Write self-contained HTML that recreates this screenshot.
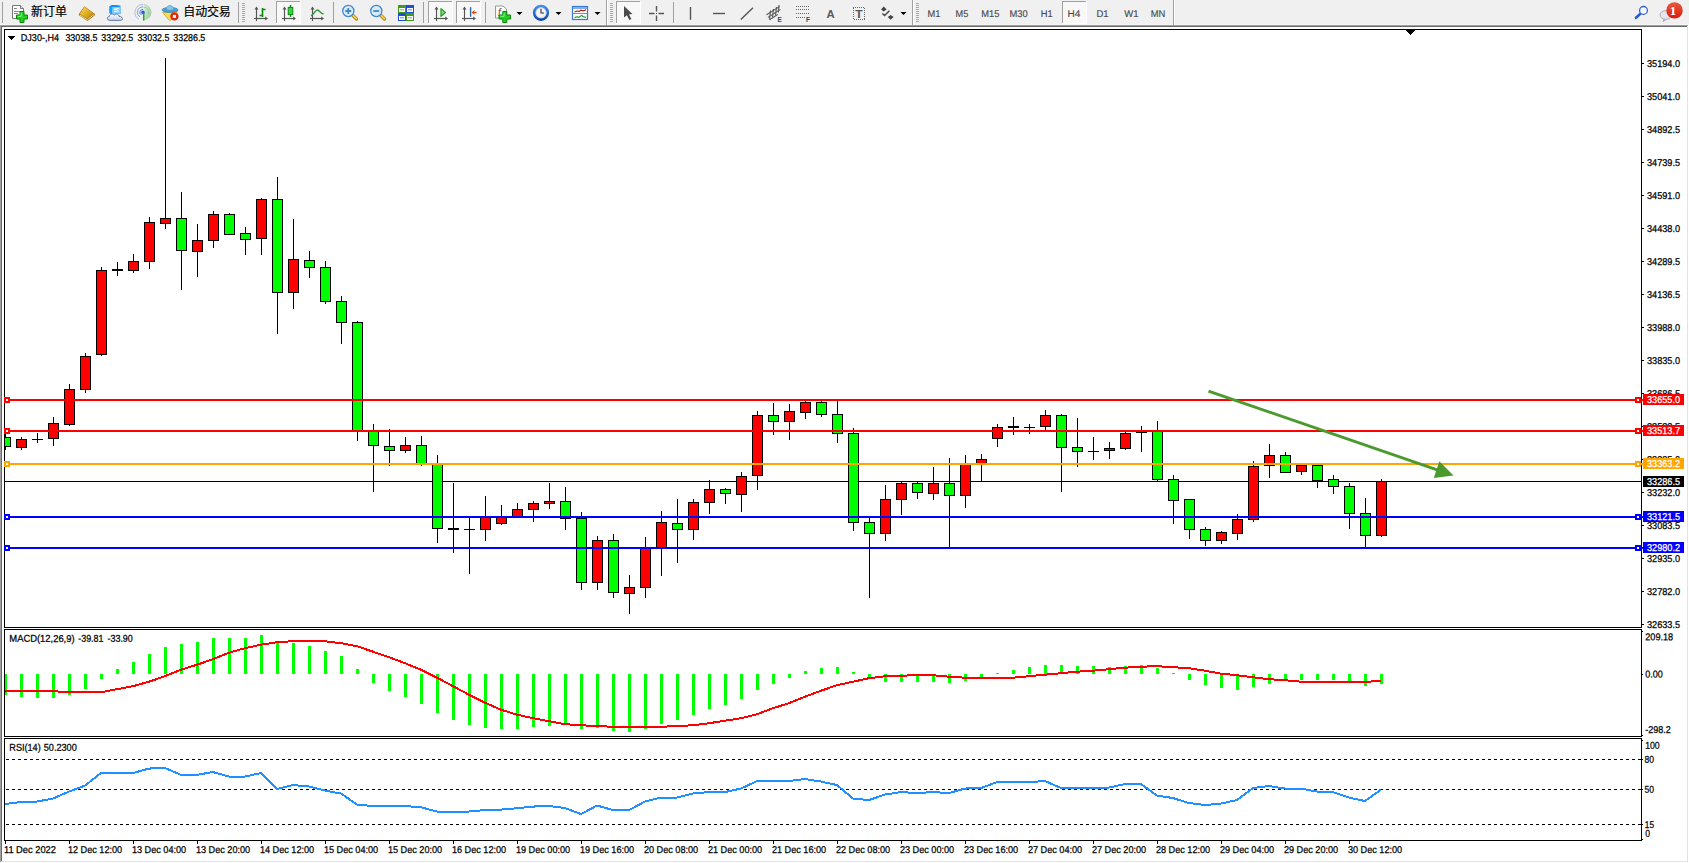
<!DOCTYPE html>
<html lang="zh"><head><meta charset="utf-8"><title>DJ30-,H4</title>
<style>html,body{margin:0;padding:0;background:#fff;overflow:hidden}svg{display:block}text{font-family:"Liberation Sans","Noto Sans CJK SC",sans-serif;font-size:9.9px;fill:#000;stroke:#000;stroke-width:0.25px}.cj{font-size:12px;stroke-width:0.18px}.tf{font-size:9.8px;fill:#4a4a4a;stroke:#4a4a4a;stroke-width:0.15px}.w{fill:#fff;stroke:#fff}</style>
</head><body>
<svg width="1689" height="863" viewBox="0 0 1689 863">
<rect x="0" y="0" width="1689" height="863" fill="#fff"/>
<g shape-rendering="crispEdges">
<rect x="0" y="0" width="1689" height="24" fill="#f0f0f0"/>
<rect x="0" y="24" width="1689" height="1" fill="#f5f5f5"/>
<rect x="0" y="25" width="1688" height="1" fill="#a0a0a0"/>
<rect x="0" y="26" width="1687" height="1" fill="#696969"/>
<rect x="0" y="25" width="1" height="837" fill="#a0a0a0"/>
<rect x="1" y="26" width="1" height="835" fill="#696969"/>
<rect x="1687" y="27" width="1" height="835" fill="#e3e3e3"/>
<rect x="1" y="861" width="1687" height="1" fill="#e3e3e3"/>
</g>
<g id="toolbar">
<rect x="2" y="2" width="1" height="21" fill="#a0a0a0" shape-rendering="crispEdges"/>
<path d="M12.5 5.5 H20.5 L23.5 8.5 V18.5 H12.5 Z" fill="#fff" stroke="#777" stroke-width="1"/><path d="M20.5 5.5 V8.5 H23.5" fill="#e8e8e8" stroke="#777" stroke-width="1"/>
<g stroke="#888" stroke-width="1" shape-rendering="crispEdges"><path d="M14 8.5 H17"/><path d="M14 11.5 H20"/><path d="M14 13.5 H18"/></g>
<path d="M20 11.5 H24 V15 H27.5 V19 H24 V22.5 H20 V19 H16.5 V15 H20 Z" fill="#1fd21f" stroke="#0a860a" stroke-width="1"/><path d="M21.3 12.8 V16.3 H17.8" fill="none" stroke="#8cf58c" stroke-width="1"/>
<text x="31" y="16.1" class="cj" textLength="36">新订单</text>
<defs><linearGradient id="gb" x1="0" y1="0" x2="1" y2="1"><stop offset="0" stop-color="#f6dc6a"/><stop offset="0.5" stop-color="#e2ae22"/><stop offset="1" stop-color="#b8800e"/></linearGradient></defs>
<path d="M84.4 6.2 L95 14 L94.6 15.6 L87.5 21 L78.8 15.2 L79 13.8 Z" fill="#a8760f"/><path d="M79.6 15 L87.4 19.6 L94 14.6" fill="none" stroke="#f3e2ac" stroke-width="0.9"/><path d="M84.5 6.8 L93.8 13.8 L87.3 18.6 L79.8 13.9 Z" fill="url(#gb)"/>
<defs><linearGradient id="cl" x1="0" y1="0" x2="0" y2="1"><stop offset="0" stop-color="#ffffff"/><stop offset="1" stop-color="#c4cede"/></linearGradient></defs>
<path d="M109.2 6.4 L112.2 5 L120.4 5.4 L120.6 14 L112 14.4 L109.2 13.2 Z" fill="#19a2ff"/><path d="M112.2 7 L120.4 6.6 L120.6 14 L112 14.4 Z" fill="#7fcbff"/><path d="M109.2 6.4 L112.2 7 L120.4 6.6 L117.6 5.2 L112.2 5 Z" fill="#0b8cf0"/><path d="M114 9.4 L118.8 8.6 M114 11.6 L118.8 11" stroke="#fff" stroke-width="1.1"/>
<path d="M110 20.4 C106.6 20.4 106.4 16.6 109.4 16.4 C109.4 13.8 113 13.2 114.2 15.2 C115.8 13.2 119.2 14.2 119 16.4 C122.6 15.8 123.8 20.4 120.4 20.4 Z" fill="url(#cl)" stroke="#5572a4" stroke-width="0.9"/>
<defs><linearGradient id="sg" x1="0" y1="0" x2="1" y2="1"><stop offset="0" stop-color="#e8f2e8"/><stop offset="1" stop-color="#7cc07c"/></linearGradient></defs>
<path d="M143.4 12.4 L143.4 4.6 A7.8 7.8 0 0 1 147.6 19 L143.6 20.4 Z" fill="url(#sg)" opacity="0.85"/>
<g fill="none" stroke-width="1"><path d="M143 4.6 A7.8 7.8 0 0 0 139 19.2" stroke="#aac0ea"/><path d="M143 7 A5.4 5.4 0 0 0 140 17" stroke="#7f9fe0"/><path d="M143 9.4 A3 3 0 0 0 141.4 15" stroke="#4f78d4"/><path d="M143.6 7 A5.4 5.4 0 0 1 148.6 14" stroke="#9cc6a4"/><path d="M143.6 4.6 A7.8 7.8 0 0 1 151 13" stroke="#b4d4b8"/></g>
<circle cx="143" cy="12.4" r="1.8" fill="#2a5cd0"/><path d="M143.7 13 V20.6" stroke="#22a822" stroke-width="1.5"/>
<path d="M162.8 12.4 L177.6 11.6 L170.4 20.6 L168.6 19.6 Z" fill="#f7dc54" stroke="#d0a018" stroke-width="0.8"/>
<ellipse cx="170" cy="9.9" rx="8" ry="2.5" fill="#4a9fd8" stroke="#2f7fb8" stroke-width="0.7"/><path d="M166.2 9.4 C166.4 4.2 173.4 4.2 173.7 9.4 C171.6 10.6 168.2 10.6 166.2 9.4 Z" fill="#86c6ee" stroke="#3f8fc8" stroke-width="0.6"/>
<circle cx="174.4" cy="16.4" r="4.2" fill="#dc2a14"/><rect x="172.9" y="14.9" width="3" height="3" fill="#fff"/>
<text x="183.3" y="16.1" class="cj" textLength="47.5">自动交易</text>
<rect x="238" y="2" width="1" height="21" fill="#a0a0a0" shape-rendering="crispEdges"/>
<g fill="#a8a8a8" shape-rendering="crispEdges"><rect x="242" y="3" width="3" height="1"/><rect x="242" y="5" width="3" height="1"/><rect x="242" y="7" width="3" height="1"/><rect x="242" y="9" width="3" height="1"/><rect x="242" y="11" width="3" height="1"/><rect x="242" y="13" width="3" height="1"/><rect x="242" y="15" width="3" height="1"/><rect x="242" y="17" width="3" height="1"/><rect x="242" y="19" width="3" height="1"/><rect x="242" y="21" width="3" height="1"/></g>
<g stroke="#555" stroke-width="1.15" fill="none" stroke-linecap="butt"><path d="M256.5 7.6 V21"/><path d="M254 18.5 H267"/></g>
<path d="M254.5 9.399999999999999 L256.5 6.6 L258.5 9.399999999999999 Z M265.2 16.5 L268 18.5 L265.2 20.5 Z" fill="#555"/>
<path d="M262.5 8 V17 M262.5 9.5 H265.5 M259.5 15.5 H262.5" stroke="#0a8a0a" stroke-width="1.6" fill="none"/>
<g shape-rendering="crispEdges"><rect x="276" y="1" width="25" height="23" fill="#f8f8f8"/><rect x="276" y="1" width="25" height="1" fill="#a0a0a0"/><rect x="276" y="1" width="1" height="23" fill="#a0a0a0"/><rect x="276" y="23" width="25" height="1" fill="#fff"/><rect x="300" y="1" width="1" height="23" fill="#fff"/></g>
<g stroke="#555" stroke-width="1.15" fill="none" stroke-linecap="butt"><path d="M284.5 7.6 V21"/><path d="M282 18.5 H295"/></g>
<path d="M282.5 9.399999999999999 L284.5 6.6 L286.5 9.399999999999999 Z M293.2 16.5 L296 18.5 L293.2 20.5 Z" fill="#555"/>
<path d="M290.5 5 V17" stroke="#0a8a0a" stroke-width="1.4"/><rect x="288.2" y="7.4" width="4.6" height="7.2" fill="#2fd84a" stroke="#0a8a0a" stroke-width="1"/>
<g stroke="#555" stroke-width="1.15" fill="none" stroke-linecap="butt"><path d="M312.5 7.6 V21"/><path d="M310 18.5 H323"/></g>
<path d="M310.5 9.399999999999999 L312.5 6.6 L314.5 9.399999999999999 Z M321.2 16.5 L324 18.5 L321.2 20.5 Z" fill="#555"/>
<path d="M311 15.8 C314 14 315.5 9.8 317.5 10 C319.5 10.2 320.5 13.6 323.5 14" fill="none" stroke="#2a9a3a" stroke-width="1.4"/>
<rect x="333" y="2" width="1" height="21" fill="#a0a0a0" shape-rendering="crispEdges"/>
<path d="M352.5 15 L356.5 19" stroke="#b48a1c" stroke-width="3.4" stroke-linecap="round"/><path d="M352.7 15 L356.3 18.6" stroke="#f2d25a" stroke-width="1.6" stroke-linecap="round"/>
<circle cx="348.3" cy="11" r="5.6" fill="#d6ebfb" stroke="#3f86d0" stroke-width="1.3"/>
<path d="M345.3 11 H351.3 M348.3 8 V14" stroke="#4a88b4" stroke-width="1.8"/>
<path d="M380.5 15 L384.5 19" stroke="#b48a1c" stroke-width="3.4" stroke-linecap="round"/><path d="M380.7 15 L384.3 18.6" stroke="#f2d25a" stroke-width="1.6" stroke-linecap="round"/>
<circle cx="376.3" cy="11" r="5.6" fill="#d6ebfb" stroke="#3f86d0" stroke-width="1.3"/>
<path d="M373.3 11 H379.3" stroke="#4a88b4" stroke-width="1.8"/>
<rect x="398" y="5" width="8" height="8" fill="#3f9a1f"/><rect x="399" y="8" width="6" height="4" fill="#fff"/><rect x="400" y="9.3" width="4" height="1" fill="#6fc04a"/>
<rect x="406" y="5" width="8" height="8" fill="#1f4fd0"/><rect x="407" y="8" width="6" height="4" fill="#fff"/><rect x="408" y="9.3" width="4" height="1" fill="#5a8af0"/>
<rect x="398" y="13" width="8" height="8" fill="#1f4fd0"/><rect x="399" y="16" width="6" height="4" fill="#fff"/><rect x="400" y="17.3" width="4" height="1" fill="#5a8af0"/>
<rect x="406" y="13" width="8" height="8" fill="#3f9a1f"/><rect x="407" y="16" width="6" height="4" fill="#fff"/><rect x="408" y="17.3" width="4" height="1" fill="#6fc04a"/>
<rect x="423" y="2" width="1" height="21" fill="#a0a0a0" shape-rendering="crispEdges"/>
<g shape-rendering="crispEdges"><rect x="428" y="1" width="25" height="23" fill="#f8f8f8"/><rect x="428" y="1" width="25" height="1" fill="#a0a0a0"/><rect x="428" y="1" width="1" height="23" fill="#a0a0a0"/><rect x="428" y="23" width="25" height="1" fill="#fff"/><rect x="452" y="1" width="1" height="23" fill="#fff"/></g>
<g stroke="#555" stroke-width="1.15" fill="none" stroke-linecap="butt"><path d="M436.5 7.6 V21"/><path d="M434 18.5 H447"/></g>
<path d="M434.5 9.399999999999999 L436.5 6.6 L438.5 9.399999999999999 Z M445.2 16.5 L448 18.5 L445.2 20.5 Z" fill="#555"/>
<path d="M441 8.6 V16.4 L445.4 12.5 Z" fill="#7fe07f" stroke="#1aa01a" stroke-width="1.2" stroke-linejoin="round"/>
<g shape-rendering="crispEdges"><rect x="456" y="1" width="25" height="23" fill="#f8f8f8"/><rect x="456" y="1" width="25" height="1" fill="#a0a0a0"/><rect x="456" y="1" width="1" height="23" fill="#a0a0a0"/><rect x="456" y="23" width="25" height="1" fill="#fff"/><rect x="480" y="1" width="1" height="23" fill="#fff"/></g>
<g stroke="#555" stroke-width="1.15" fill="none" stroke-linecap="butt"><path d="M464.5 7.6 V21"/><path d="M462 18.5 H475"/></g>
<path d="M462.5 9.399999999999999 L464.5 6.6 L466.5 9.399999999999999 Z M473.2 16.5 L476 18.5 L473.2 20.5 Z" fill="#555"/>
<path d="M470.6 7.2 V16.8" stroke="#2a6aa8" stroke-width="1.4"/><path d="M476.6 12.5 H472" stroke="#d84a10" stroke-width="1.2"/><path d="M471.6 12.5 L474.8 10 L474 12.5 L474.8 15 Z" fill="#d84a10"/>
<rect x="485" y="2" width="1" height="21" fill="#a0a0a0" shape-rendering="crispEdges"/>
<path d="M495.5 6 H503 L506.5 9 V18 H495.5 Z" fill="#fdfdfd" stroke="#999" stroke-width="1"/><text x="498" y="15.5" style="font-size:10px;font-style:italic;fill:#554;stroke:none">f</text>
<path d="M502.8 11.5 H506.8 V15 H510.5 V19 H506.8 V22.5 H502.8 V19 H499 V15 H502.8 Z" fill="#1fd21f" stroke="#0a860a" stroke-width="1"/><path d="M504.1 12.8 V16.3 H500.3" fill="none" stroke="#8cf58c" stroke-width="1"/>
<path d="M516.5 12 L522.5 12 L519.5 15 Z" fill="#000"/>
<defs><linearGradient id="ck" x1="0" y1="0" x2="0" y2="1"><stop offset="0" stop-color="#3f8ff0"/><stop offset="1" stop-color="#0f49b0"/></linearGradient></defs><circle cx="541" cy="12.8" r="6.8" fill="#fff" stroke="url(#ck)" stroke-width="2.6"/><circle cx="541" cy="12.8" r="5.2" fill="#f4f4f4" stroke="#9ab" stroke-width="0.5"/><path d="M541 8.8 V13 H544" fill="none" stroke="#333" stroke-width="1.1"/>
<path d="M555.5 12 L561.5 12 L558.5 15 Z" fill="#000"/>
<rect x="572.5" y="6.5" width="15" height="13" fill="#fff" stroke="#3a78d0" stroke-width="1.2"/><rect x="573" y="7" width="14" height="2" fill="#7fb0ee"/><path d="M573 13.5 H587" stroke="#3a78d0" stroke-width="0.8"/><path d="M574.5 12 L577 11 L579 11.4 L581 10.2 L583.5 10.8 L586 9.8" fill="none" stroke="#b02010" stroke-width="1.2"/><path d="M574.5 17.6 L577 16.8 L579 17.4 L581.5 15.4 L583.5 16.8 L586 17.4" fill="none" stroke="#1a9a2a" stroke-width="1.2"/>
<path d="M594.5 12 L600.5 12 L597.5 15 Z" fill="#000"/>
<rect x="606" y="0" width="1" height="25" fill="#a0a0a0" shape-rendering="crispEdges"/><rect x="607" y="0" width="1" height="25" fill="#fff" shape-rendering="crispEdges"/>
<g fill="#a8a8a8" shape-rendering="crispEdges"><rect x="610" y="3" width="3" height="1"/><rect x="610" y="5" width="3" height="1"/><rect x="610" y="7" width="3" height="1"/><rect x="610" y="9" width="3" height="1"/><rect x="610" y="11" width="3" height="1"/><rect x="610" y="13" width="3" height="1"/><rect x="610" y="15" width="3" height="1"/><rect x="610" y="17" width="3" height="1"/><rect x="610" y="19" width="3" height="1"/><rect x="610" y="21" width="3" height="1"/></g>
<g shape-rendering="crispEdges"><rect x="616" y="1" width="25" height="23" fill="#f8f8f8"/><rect x="616" y="1" width="25" height="1" fill="#a0a0a0"/><rect x="616" y="1" width="1" height="23" fill="#a0a0a0"/><rect x="616" y="23" width="25" height="1" fill="#fff"/><rect x="640" y="1" width="1" height="23" fill="#fff"/></g>
<path d="M624 6 V17.6 L626.8 15.2 L629.4 20 L631.4 19 L629 14.4 L632.4 14 Z" fill="#4a4a4a"/>
<path d="M649 13.5 H654.5 M658.5 13.5 H664 M656.5 6 V11.5 M656.5 15.5 V21" stroke="#555" stroke-width="1.4"/><rect x="656" y="13" width="1" height="1" fill="#555"/>
<rect x="673" y="2" width="1" height="21" fill="#a0a0a0" shape-rendering="crispEdges"/>
<path d="M690.5 7 V19.8" stroke="#555" stroke-width="1.4"/><path d="M713 13.5 H725" stroke="#555" stroke-width="1.4"/><path d="M740.8 19.6 L753 7.8" stroke="#555" stroke-width="1.4"/>
<g stroke="#555" stroke-width="1.1" fill="none"><path d="M766.5 14.8 L779.5 6.6"/><path d="M768 17.4 L780.5 9.4"/><path d="M769.5 19.8 L778 14.4"/><path d="M770.5 10.5 L769.5 19.5 M773.5 9 L772.5 17.5 M776.5 7 L775.5 15.5 M779 5 L778.3 12.5"/></g><text x="777.6" y="21.6" style="font-size:6.5px;font-weight:bold;fill:#444;stroke:none">E</text>
<g stroke="#666" stroke-width="1" stroke-dasharray="1 1" shape-rendering="crispEdges"><path d="M796 6.5 H809"/><path d="M796 9.5 H809"/><path d="M796 13.5 H809"/><path d="M796 17.5 H805"/></g><text x="806" y="21.6" style="font-size:6.5px;font-weight:bold;fill:#444;stroke:none">F</text>
<text x="826.6" y="17.5" style="font-size:11.5px;font-weight:bold;fill:#5a5a5a;stroke:none" textLength="8.2" lengthAdjust="spacingAndGlyphs">A</text>
<rect x="853" y="7" width="11.5" height="12.5" fill="none" stroke="#666" stroke-width="1" stroke-dasharray="1 1" shape-rendering="crispEdges"/><text x="855.3" y="17.8" style="font-size:10.5px;font-weight:bold;fill:#5a5a5a;stroke:none" textLength="7.4" lengthAdjust="spacingAndGlyphs">T</text>
<path d="M883.8 6.6 L886.6 9.6 L883.8 11.6 L881 9.6 Z M890.6 19.8 L893.6 17 L890.6 15 L887.8 17 Z" fill="#444"/><path d="M882.4 13.4 L884.6 15.6 L889.4 10.8" fill="none" stroke="#444" stroke-width="1.4"/>
<path d="M900.5 12 L906.5 12 L903.5 15 Z" fill="#000"/>
<rect x="912" y="0" width="1" height="25" fill="#a0a0a0" shape-rendering="crispEdges"/><rect x="913" y="0" width="1" height="25" fill="#fff" shape-rendering="crispEdges"/>
<g fill="#a8a8a8" shape-rendering="crispEdges"><rect x="916" y="3" width="3" height="1"/><rect x="916" y="5" width="3" height="1"/><rect x="916" y="7" width="3" height="1"/><rect x="916" y="9" width="3" height="1"/><rect x="916" y="11" width="3" height="1"/><rect x="916" y="13" width="3" height="1"/><rect x="916" y="15" width="3" height="1"/><rect x="916" y="17" width="3" height="1"/><rect x="916" y="19" width="3" height="1"/><rect x="916" y="21" width="3" height="1"/></g>
<g shape-rendering="crispEdges"><rect x="1062" y="1" width="25" height="23" fill="#f8f8f8"/><rect x="1062" y="1" width="25" height="1" fill="#a0a0a0"/><rect x="1062" y="1" width="1" height="23" fill="#a0a0a0"/><rect x="1062" y="23" width="25" height="1" fill="#fff"/><rect x="1086" y="1" width="1" height="23" fill="#fff"/></g>
<text transform="translate(927.4 17.1) rotate(0.1)" class="tf" textLength="12.9" lengthAdjust="spacingAndGlyphs">M1</text>
<text transform="translate(955.6 17.1) rotate(0.1)" class="tf" textLength="12.7" lengthAdjust="spacingAndGlyphs">M5</text>
<text transform="translate(981.3 17.1) rotate(0.1)" class="tf" textLength="18.2" lengthAdjust="spacingAndGlyphs">M15</text>
<text transform="translate(1009.5 17.1) rotate(0.1)" class="tf" textLength="18.2" lengthAdjust="spacingAndGlyphs">M30</text>
<text transform="translate(1040.7 17.1) rotate(0.1)" class="tf" textLength="11.9" lengthAdjust="spacingAndGlyphs">H1</text>
<text transform="translate(1067.5 17.1) rotate(0.1)" class="tf" textLength="12.8" lengthAdjust="spacingAndGlyphs">H4</text>
<text transform="translate(1096.5 17.1) rotate(0.1)" class="tf" textLength="12.1" lengthAdjust="spacingAndGlyphs">D1</text>
<text transform="translate(1124.2 17.1) rotate(0.1)" class="tf" textLength="14.3" lengthAdjust="spacingAndGlyphs">W1</text>
<text transform="translate(1150.8 17.1) rotate(0.1)" class="tf" textLength="14.6" lengthAdjust="spacingAndGlyphs">MN</text>
<rect x="1173" y="0" width="1" height="25" fill="#a0a0a0" shape-rendering="crispEdges"/><rect x="1174" y="0" width="1" height="25" fill="#fff" shape-rendering="crispEdges"/>
<path d="M1640.8 13.4 L1636 17.8" stroke="#2458cc" stroke-width="2.6" stroke-linecap="round"/><circle cx="1643.5" cy="10.4" r="3.9" fill="#fafbff" stroke="#2f60d4" stroke-width="1.3"/>
<path d="M1664 18.8 L1663.2 21.4 L1666.6 19.2" fill="#dfe0ea" stroke="#999" stroke-width="0.8"/><ellipse cx="1665.8" cy="15" rx="5.8" ry="4.4" fill="#e4e5ee" stroke="#a8a8b0" stroke-width="0.9"/>
<defs><linearGradient id="bg1" x1="0" y1="0" x2="0" y2="1"><stop offset="0" stop-color="#ea5a3c"/><stop offset="1" stop-color="#d81c0c"/></linearGradient></defs><circle cx="1674.5" cy="10.4" r="8.2" fill="url(#bg1)"/><text x="1669.8" y="14.6" style="font-size:13px;fill:#fff;stroke:none;font-weight:bold;font-family:'Liberation Serif',serif">1</text>
</g>
<g shape-rendering="crispEdges" fill="#000">
<rect x="4" y="29" width="1638" height="1"/>
<rect x="4" y="29" width="1" height="812"/>
<rect x="4" y="627" width="1638" height="1"/>
<rect x="4" y="629" width="1638" height="1"/>
<rect x="4" y="736" width="1638" height="1"/>
<rect x="4" y="738" width="1638" height="1"/>
<rect x="4" y="840" width="1638" height="1"/>
<rect x="1641" y="29" width="1" height="599"/>
<rect x="1641" y="629" width="1" height="108"/>
<rect x="1641" y="738" width="1" height="103"/>
<rect x="4" y="628" width="1" height="1" fill="#fff"/>
<rect x="4" y="737" width="1" height="1" fill="#fff"/>
<rect x="1642" y="63" width="2" height="1"/>
<rect x="1642" y="96" width="2" height="1"/>
<rect x="1642" y="129" width="2" height="1"/>
<rect x="1642" y="162" width="2" height="1"/>
<rect x="1642" y="195" width="2" height="1"/>
<rect x="1642" y="228" width="2" height="1"/>
<rect x="1642" y="261" width="2" height="1"/>
<rect x="1642" y="294" width="2" height="1"/>
<rect x="1642" y="327" width="2" height="1"/>
<rect x="1642" y="360" width="2" height="1"/>
<rect x="1642" y="393" width="2" height="1"/>
<rect x="1642" y="426" width="2" height="1"/>
<rect x="1642" y="459" width="2" height="1"/>
<rect x="1642" y="492" width="2" height="1"/>
<rect x="1642" y="525" width="2" height="1"/>
<rect x="1642" y="558" width="2" height="1"/>
<rect x="1642" y="591" width="2" height="1"/>
<rect x="1642" y="624" width="2" height="1"/>
<rect x="1642" y="631" width="1" height="1"/>
<rect x="1642" y="674" width="1" height="1"/>
<rect x="1642" y="735" width="1" height="1"/>
<rect x="1642" y="740" width="1" height="1"/>
<rect x="1642" y="759" width="1" height="1"/>
<rect x="1642" y="789" width="1" height="1"/>
<rect x="1642" y="824" width="1" height="1"/>
<rect x="1642" y="839" width="1" height="1"/>
<rect x="5" y="841" width="1" height="3"/>
<rect x="69" y="841" width="1" height="3"/>
<rect x="133" y="841" width="1" height="3"/>
<rect x="197" y="841" width="1" height="3"/>
<rect x="261" y="841" width="1" height="3"/>
<rect x="325" y="841" width="1" height="3"/>
<rect x="389" y="841" width="1" height="3"/>
<rect x="453" y="841" width="1" height="3"/>
<rect x="517" y="841" width="1" height="3"/>
<rect x="581" y="841" width="1" height="3"/>
<rect x="645" y="841" width="1" height="3"/>
<rect x="709" y="841" width="1" height="3"/>
<rect x="773" y="841" width="1" height="3"/>
<rect x="837" y="841" width="1" height="3"/>
<rect x="901" y="841" width="1" height="3"/>
<rect x="965" y="841" width="1" height="3"/>
<rect x="1029" y="841" width="1" height="3"/>
<rect x="1093" y="841" width="1" height="3"/>
<rect x="1157" y="841" width="1" height="3"/>
<rect x="1221" y="841" width="1" height="3"/>
<rect x="1285" y="841" width="1" height="3"/>
<rect x="1349" y="841" width="1" height="3"/>
</g>
<g fill="#000" shape-rendering="crispEdges"><rect x="1406" y="30" width="9" height="1"/><rect x="1407" y="31" width="7" height="1"/><rect x="1408" y="32" width="5" height="1"/><rect x="1409" y="33" width="3" height="1"/><rect x="1410" y="34" width="1" height="1"/></g>
<g shape-rendering="crispEdges">
<clipPath id="cp"><rect x="5" y="30" width="1636" height="597"/></clipPath>
<rect x="5" y="481" width="1636" height="1" fill="#000"/>
<g clip-path="url(#cp)">
<rect x="5" y="432" width="1" height="18" fill="#000"/>
<rect x="0" y="437" width="11" height="10" fill="#000"/>
<rect x="1" y="438" width="9" height="8" fill="#0f0"/>
<rect x="21" y="437" width="1" height="13" fill="#000"/>
<rect x="16" y="439" width="11" height="9" fill="#000"/>
<rect x="17" y="440" width="9" height="7" fill="#f00"/>
<rect x="37" y="433" width="1" height="10" fill="#000"/>
<rect x="32" y="439" width="11" height="1" fill="#000"/>
<rect x="53" y="417" width="1" height="29" fill="#000"/>
<rect x="48" y="423" width="11" height="16" fill="#000"/>
<rect x="49" y="424" width="9" height="14" fill="#f00"/>
<rect x="69" y="384" width="1" height="42" fill="#000"/>
<rect x="64" y="389" width="11" height="36" fill="#000"/>
<rect x="65" y="390" width="9" height="34" fill="#f00"/>
<rect x="85" y="353" width="1" height="40" fill="#000"/>
<rect x="80" y="356" width="11" height="34" fill="#000"/>
<rect x="81" y="357" width="9" height="32" fill="#f00"/>
<rect x="101" y="267" width="1" height="89" fill="#000"/>
<rect x="96" y="270" width="11" height="85" fill="#000"/>
<rect x="97" y="271" width="9" height="83" fill="#f00"/>
<rect x="117" y="262" width="1" height="14" fill="#000"/>
<rect x="112" y="269" width="11" height="2" fill="#000"/>
<rect x="133" y="254" width="1" height="19" fill="#000"/>
<rect x="128" y="261" width="11" height="10" fill="#000"/>
<rect x="129" y="262" width="9" height="8" fill="#f00"/>
<rect x="149" y="217" width="1" height="52" fill="#000"/>
<rect x="144" y="222" width="11" height="40" fill="#000"/>
<rect x="145" y="223" width="9" height="38" fill="#f00"/>
<rect x="165" y="58" width="1" height="171" fill="#000"/>
<rect x="160" y="218" width="11" height="6" fill="#000"/>
<rect x="161" y="219" width="9" height="4" fill="#f00"/>
<rect x="181" y="192" width="1" height="98" fill="#000"/>
<rect x="176" y="218" width="11" height="33" fill="#000"/>
<rect x="177" y="219" width="9" height="31" fill="#0f0"/>
<rect x="197" y="224" width="1" height="53" fill="#000"/>
<rect x="192" y="240" width="11" height="12" fill="#000"/>
<rect x="193" y="241" width="9" height="10" fill="#f00"/>
<rect x="213" y="211" width="1" height="37" fill="#000"/>
<rect x="208" y="214" width="11" height="27" fill="#000"/>
<rect x="209" y="215" width="9" height="25" fill="#f00"/>
<rect x="229" y="213" width="1" height="22" fill="#000"/>
<rect x="224" y="214" width="11" height="21" fill="#000"/>
<rect x="225" y="215" width="9" height="19" fill="#0f0"/>
<rect x="245" y="227" width="1" height="28" fill="#000"/>
<rect x="240" y="233" width="11" height="7" fill="#000"/>
<rect x="241" y="234" width="9" height="5" fill="#0f0"/>
<rect x="261" y="198" width="1" height="57" fill="#000"/>
<rect x="256" y="199" width="11" height="40" fill="#000"/>
<rect x="257" y="200" width="9" height="38" fill="#f00"/>
<rect x="277" y="177" width="1" height="157" fill="#000"/>
<rect x="272" y="199" width="11" height="94" fill="#000"/>
<rect x="273" y="200" width="9" height="92" fill="#0f0"/>
<rect x="293" y="219" width="1" height="90" fill="#000"/>
<rect x="288" y="259" width="11" height="34" fill="#000"/>
<rect x="289" y="260" width="9" height="32" fill="#f00"/>
<rect x="309" y="251" width="1" height="27" fill="#000"/>
<rect x="304" y="260" width="11" height="8" fill="#000"/>
<rect x="305" y="261" width="9" height="6" fill="#0f0"/>
<rect x="325" y="261" width="1" height="43" fill="#000"/>
<rect x="320" y="267" width="11" height="35" fill="#000"/>
<rect x="321" y="268" width="9" height="33" fill="#0f0"/>
<rect x="341" y="296" width="1" height="48" fill="#000"/>
<rect x="336" y="301" width="11" height="22" fill="#000"/>
<rect x="337" y="302" width="9" height="20" fill="#0f0"/>
<rect x="357" y="321" width="1" height="120" fill="#000"/>
<rect x="352" y="322" width="11" height="109" fill="#000"/>
<rect x="353" y="323" width="9" height="107" fill="#0f0"/>
<rect x="373" y="424" width="1" height="68" fill="#000"/>
<rect x="368" y="431" width="11" height="15" fill="#000"/>
<rect x="369" y="432" width="9" height="13" fill="#0f0"/>
<rect x="389" y="429" width="1" height="37" fill="#000"/>
<rect x="384" y="446" width="11" height="5" fill="#000"/>
<rect x="385" y="447" width="9" height="3" fill="#0f0"/>
<rect x="405" y="437" width="1" height="16" fill="#000"/>
<rect x="400" y="445" width="11" height="6" fill="#000"/>
<rect x="401" y="446" width="9" height="4" fill="#f00"/>
<rect x="421" y="436" width="1" height="30" fill="#000"/>
<rect x="416" y="445" width="11" height="19" fill="#000"/>
<rect x="417" y="446" width="9" height="17" fill="#0f0"/>
<rect x="437" y="455" width="1" height="88" fill="#000"/>
<rect x="432" y="464" width="11" height="65" fill="#000"/>
<rect x="433" y="465" width="9" height="63" fill="#0f0"/>
<rect x="453" y="483" width="1" height="70" fill="#000"/>
<rect x="448" y="528" width="11" height="2" fill="#000"/>
<rect x="469" y="516" width="1" height="58" fill="#000"/>
<rect x="464" y="529" width="11" height="1" fill="#000"/>
<rect x="485" y="496" width="1" height="45" fill="#000"/>
<rect x="480" y="517" width="11" height="13" fill="#000"/>
<rect x="481" y="518" width="9" height="11" fill="#f00"/>
<rect x="501" y="505" width="1" height="20" fill="#000"/>
<rect x="496" y="517" width="11" height="7" fill="#000"/>
<rect x="497" y="518" width="9" height="5" fill="#f00"/>
<rect x="517" y="503" width="1" height="15" fill="#000"/>
<rect x="512" y="509" width="11" height="9" fill="#000"/>
<rect x="513" y="510" width="9" height="7" fill="#f00"/>
<rect x="533" y="501" width="1" height="21" fill="#000"/>
<rect x="528" y="503" width="11" height="7" fill="#000"/>
<rect x="529" y="504" width="9" height="5" fill="#f00"/>
<rect x="549" y="483" width="1" height="26" fill="#000"/>
<rect x="544" y="501" width="11" height="3" fill="#000"/>
<rect x="545" y="502" width="9" height="1" fill="#f00"/>
<rect x="565" y="487" width="1" height="43" fill="#000"/>
<rect x="560" y="501" width="11" height="18" fill="#000"/>
<rect x="561" y="502" width="9" height="16" fill="#0f0"/>
<rect x="581" y="512" width="1" height="78" fill="#000"/>
<rect x="576" y="518" width="11" height="65" fill="#000"/>
<rect x="577" y="519" width="9" height="63" fill="#0f0"/>
<rect x="597" y="536" width="1" height="54" fill="#000"/>
<rect x="592" y="540" width="11" height="43" fill="#000"/>
<rect x="593" y="541" width="9" height="41" fill="#f00"/>
<rect x="613" y="534" width="1" height="64" fill="#000"/>
<rect x="608" y="540" width="11" height="53" fill="#000"/>
<rect x="609" y="541" width="9" height="51" fill="#0f0"/>
<rect x="629" y="575" width="1" height="39" fill="#000"/>
<rect x="624" y="587" width="11" height="7" fill="#000"/>
<rect x="625" y="588" width="9" height="5" fill="#f00"/>
<rect x="645" y="537" width="1" height="61" fill="#000"/>
<rect x="640" y="547" width="11" height="41" fill="#000"/>
<rect x="641" y="548" width="9" height="39" fill="#f00"/>
<rect x="661" y="511" width="1" height="65" fill="#000"/>
<rect x="656" y="522" width="11" height="26" fill="#000"/>
<rect x="657" y="523" width="9" height="24" fill="#f00"/>
<rect x="677" y="499" width="1" height="64" fill="#000"/>
<rect x="672" y="523" width="11" height="7" fill="#000"/>
<rect x="673" y="524" width="9" height="5" fill="#0f0"/>
<rect x="693" y="499" width="1" height="41" fill="#000"/>
<rect x="688" y="502" width="11" height="28" fill="#000"/>
<rect x="689" y="503" width="9" height="26" fill="#f00"/>
<rect x="709" y="480" width="1" height="34" fill="#000"/>
<rect x="704" y="489" width="11" height="14" fill="#000"/>
<rect x="705" y="490" width="9" height="12" fill="#f00"/>
<rect x="725" y="488" width="1" height="16" fill="#000"/>
<rect x="720" y="489" width="11" height="5" fill="#000"/>
<rect x="721" y="490" width="9" height="3" fill="#0f0"/>
<rect x="741" y="472" width="1" height="40" fill="#000"/>
<rect x="736" y="476" width="11" height="19" fill="#000"/>
<rect x="737" y="477" width="9" height="17" fill="#f00"/>
<rect x="757" y="411" width="1" height="79" fill="#000"/>
<rect x="752" y="415" width="11" height="61" fill="#000"/>
<rect x="753" y="416" width="9" height="59" fill="#f00"/>
<rect x="773" y="403" width="1" height="32" fill="#000"/>
<rect x="768" y="415" width="11" height="7" fill="#000"/>
<rect x="769" y="416" width="9" height="5" fill="#0f0"/>
<rect x="789" y="404" width="1" height="36" fill="#000"/>
<rect x="784" y="411" width="11" height="11" fill="#000"/>
<rect x="785" y="412" width="9" height="9" fill="#f00"/>
<rect x="805" y="401" width="1" height="18" fill="#000"/>
<rect x="800" y="402" width="11" height="11" fill="#000"/>
<rect x="801" y="403" width="9" height="9" fill="#f00"/>
<rect x="821" y="401" width="1" height="16" fill="#000"/>
<rect x="816" y="402" width="11" height="13" fill="#000"/>
<rect x="817" y="403" width="9" height="11" fill="#0f0"/>
<rect x="837" y="401" width="1" height="42" fill="#000"/>
<rect x="832" y="414" width="11" height="20" fill="#000"/>
<rect x="833" y="415" width="9" height="18" fill="#0f0"/>
<rect x="853" y="428" width="1" height="103" fill="#000"/>
<rect x="848" y="433" width="11" height="90" fill="#000"/>
<rect x="849" y="434" width="9" height="88" fill="#0f0"/>
<rect x="869" y="517" width="1" height="81" fill="#000"/>
<rect x="864" y="522" width="11" height="12" fill="#000"/>
<rect x="865" y="523" width="9" height="10" fill="#0f0"/>
<rect x="885" y="485" width="1" height="56" fill="#000"/>
<rect x="880" y="499" width="11" height="35" fill="#000"/>
<rect x="881" y="500" width="9" height="33" fill="#f00"/>
<rect x="901" y="481" width="1" height="34" fill="#000"/>
<rect x="896" y="483" width="11" height="17" fill="#000"/>
<rect x="897" y="484" width="9" height="15" fill="#f00"/>
<rect x="917" y="481" width="1" height="18" fill="#000"/>
<rect x="912" y="483" width="11" height="10" fill="#000"/>
<rect x="913" y="484" width="9" height="8" fill="#0f0"/>
<rect x="933" y="467" width="1" height="33" fill="#000"/>
<rect x="928" y="483" width="11" height="11" fill="#000"/>
<rect x="929" y="484" width="9" height="9" fill="#f00"/>
<rect x="949" y="458" width="1" height="90" fill="#000"/>
<rect x="944" y="483" width="11" height="13" fill="#000"/>
<rect x="945" y="484" width="9" height="11" fill="#0f0"/>
<rect x="965" y="455" width="1" height="53" fill="#000"/>
<rect x="960" y="464" width="11" height="32" fill="#000"/>
<rect x="961" y="465" width="9" height="30" fill="#f00"/>
<rect x="981" y="454" width="1" height="28" fill="#000"/>
<rect x="976" y="459" width="11" height="6" fill="#000"/>
<rect x="977" y="460" width="9" height="4" fill="#f00"/>
<rect x="997" y="424" width="1" height="23" fill="#000"/>
<rect x="992" y="427" width="11" height="12" fill="#000"/>
<rect x="993" y="428" width="9" height="10" fill="#f00"/>
<rect x="1013" y="417" width="1" height="18" fill="#000"/>
<rect x="1008" y="426" width="11" height="2" fill="#000"/>
<rect x="1029" y="424" width="1" height="10" fill="#000"/>
<rect x="1024" y="427" width="11" height="1" fill="#000"/>
<rect x="1045" y="410" width="1" height="20" fill="#000"/>
<rect x="1040" y="415" width="11" height="12" fill="#000"/>
<rect x="1041" y="416" width="9" height="10" fill="#f00"/>
<rect x="1061" y="414" width="1" height="78" fill="#000"/>
<rect x="1056" y="415" width="11" height="33" fill="#000"/>
<rect x="1057" y="416" width="9" height="31" fill="#0f0"/>
<rect x="1077" y="418" width="1" height="49" fill="#000"/>
<rect x="1072" y="447" width="11" height="5" fill="#000"/>
<rect x="1073" y="448" width="9" height="3" fill="#0f0"/>
<rect x="1093" y="437" width="1" height="23" fill="#000"/>
<rect x="1088" y="451" width="11" height="1" fill="#000"/>
<rect x="1109" y="442" width="1" height="17" fill="#000"/>
<rect x="1104" y="448" width="11" height="3" fill="#000"/>
<rect x="1105" y="449" width="9" height="1" fill="#f00"/>
<rect x="1125" y="432" width="1" height="18" fill="#000"/>
<rect x="1120" y="433" width="11" height="16" fill="#000"/>
<rect x="1121" y="434" width="9" height="14" fill="#f00"/>
<rect x="1141" y="426" width="1" height="26" fill="#000"/>
<rect x="1136" y="432" width="11" height="1" fill="#000"/>
<rect x="1157" y="421" width="1" height="60" fill="#000"/>
<rect x="1152" y="431" width="11" height="49" fill="#000"/>
<rect x="1153" y="432" width="9" height="47" fill="#0f0"/>
<rect x="1173" y="475" width="1" height="49" fill="#000"/>
<rect x="1168" y="479" width="11" height="22" fill="#000"/>
<rect x="1169" y="480" width="9" height="20" fill="#0f0"/>
<rect x="1189" y="499" width="1" height="40" fill="#000"/>
<rect x="1184" y="499" width="11" height="31" fill="#000"/>
<rect x="1185" y="500" width="9" height="29" fill="#0f0"/>
<rect x="1205" y="527" width="1" height="19" fill="#000"/>
<rect x="1200" y="529" width="11" height="12" fill="#000"/>
<rect x="1201" y="530" width="9" height="10" fill="#0f0"/>
<rect x="1221" y="531" width="1" height="13" fill="#000"/>
<rect x="1216" y="532" width="11" height="9" fill="#000"/>
<rect x="1217" y="533" width="9" height="7" fill="#f00"/>
<rect x="1237" y="514" width="1" height="26" fill="#000"/>
<rect x="1232" y="519" width="11" height="15" fill="#000"/>
<rect x="1233" y="520" width="9" height="13" fill="#f00"/>
<rect x="1253" y="461" width="1" height="61" fill="#000"/>
<rect x="1248" y="466" width="11" height="54" fill="#000"/>
<rect x="1249" y="467" width="9" height="52" fill="#f00"/>
<rect x="1269" y="444" width="1" height="34" fill="#000"/>
<rect x="1264" y="455" width="11" height="11" fill="#000"/>
<rect x="1265" y="456" width="9" height="9" fill="#f00"/>
<rect x="1285" y="452" width="1" height="21" fill="#000"/>
<rect x="1280" y="455" width="11" height="18" fill="#000"/>
<rect x="1281" y="456" width="9" height="16" fill="#0f0"/>
<rect x="1301" y="465" width="1" height="10" fill="#000"/>
<rect x="1296" y="465" width="11" height="7" fill="#000"/>
<rect x="1297" y="466" width="9" height="5" fill="#f00"/>
<rect x="1317" y="465" width="1" height="23" fill="#000"/>
<rect x="1312" y="465" width="11" height="16" fill="#000"/>
<rect x="1313" y="466" width="9" height="14" fill="#0f0"/>
<rect x="1333" y="475" width="1" height="19" fill="#000"/>
<rect x="1328" y="479" width="11" height="8" fill="#000"/>
<rect x="1329" y="480" width="9" height="6" fill="#0f0"/>
<rect x="1349" y="483" width="1" height="46" fill="#000"/>
<rect x="1344" y="486" width="11" height="28" fill="#000"/>
<rect x="1345" y="487" width="9" height="26" fill="#0f0"/>
<rect x="1365" y="498" width="1" height="49" fill="#000"/>
<rect x="1360" y="513" width="11" height="23" fill="#000"/>
<rect x="1361" y="514" width="9" height="21" fill="#0f0"/>
<rect x="1381" y="479" width="1" height="58" fill="#000"/>
<rect x="1376" y="481" width="11" height="55" fill="#000"/>
<rect x="1377" y="482" width="9" height="53" fill="#f00"/>
</g>
<rect x="5" y="399" width="1638" height="2" fill="#f00"/>
<rect x="4" y="397" width="6" height="6" fill="#f00"/>
<rect x="6" y="399" width="2" height="2" fill="#fff"/>
<rect x="1635" y="397" width="6" height="6" fill="#f00"/>
<rect x="1637" y="399" width="2" height="2" fill="#fff"/>
<rect x="5" y="430" width="1638" height="2" fill="#f00"/>
<rect x="4" y="428" width="6" height="6" fill="#f00"/>
<rect x="6" y="430" width="2" height="2" fill="#fff"/>
<rect x="1635" y="428" width="6" height="6" fill="#f00"/>
<rect x="1637" y="430" width="2" height="2" fill="#fff"/>
<rect x="5" y="463" width="1638" height="2" fill="#ffa500"/>
<rect x="4" y="461" width="6" height="6" fill="#ffa500"/>
<rect x="6" y="463" width="2" height="2" fill="#fff"/>
<rect x="1635" y="461" width="6" height="6" fill="#ffa500"/>
<rect x="1637" y="463" width="2" height="2" fill="#fff"/>
<rect x="5" y="516" width="1638" height="2" fill="#00f"/>
<rect x="4" y="514" width="6" height="6" fill="#00f"/>
<rect x="6" y="516" width="2" height="2" fill="#fff"/>
<rect x="1635" y="514" width="6" height="6" fill="#00f"/>
<rect x="1637" y="516" width="2" height="2" fill="#fff"/>
<rect x="5" y="547" width="1638" height="2" fill="#00f"/>
<rect x="4" y="545" width="6" height="6" fill="#00f"/>
<rect x="6" y="547" width="2" height="2" fill="#fff"/>
<rect x="1635" y="545" width="6" height="6" fill="#00f"/>
<rect x="1637" y="547" width="2" height="2" fill="#fff"/>
</g>
<g fill="#4c9a2e" stroke="none"><path d="M1208.0 392.5 L1209.0 389.8 L1438.4 468.7 L1437.4 471.4 Z"/><path d="M1453.5 475.4 L1439.3 461.2 L1433.8 478 Z"/></g>
<g shape-rendering="crispEdges" fill="#0f0">
<rect x="5" y="674" width="2" height="21"/>
<rect x="20" y="674" width="3" height="23"/>
<rect x="36" y="674" width="3" height="24"/>
<rect x="52" y="674" width="3" height="24"/>
<rect x="68" y="674" width="3" height="21"/>
<rect x="84" y="674" width="3" height="15"/>
<rect x="100" y="674" width="3" height="5"/>
<rect x="116" y="669" width="3" height="5"/>
<rect x="132" y="662" width="3" height="12"/>
<rect x="148" y="654" width="3" height="20"/>
<rect x="164" y="647" width="3" height="27"/>
<rect x="180" y="644" width="3" height="30"/>
<rect x="196" y="642" width="3" height="32"/>
<rect x="212" y="638" width="3" height="36"/>
<rect x="228" y="638" width="3" height="36"/>
<rect x="244" y="638" width="3" height="36"/>
<rect x="260" y="635" width="3" height="39"/>
<rect x="276" y="641" width="3" height="33"/>
<rect x="292" y="643" width="3" height="31"/>
<rect x="308" y="646" width="3" height="28"/>
<rect x="324" y="651" width="3" height="23"/>
<rect x="340" y="656" width="3" height="18"/>
<rect x="356" y="669" width="3" height="5"/>
<rect x="372" y="674" width="3" height="9"/>
<rect x="388" y="674" width="3" height="17"/>
<rect x="404" y="674" width="3" height="23"/>
<rect x="420" y="674" width="3" height="30"/>
<rect x="436" y="674" width="3" height="39"/>
<rect x="452" y="674" width="3" height="46"/>
<rect x="468" y="674" width="3" height="51"/>
<rect x="484" y="674" width="3" height="54"/>
<rect x="500" y="674" width="3" height="55"/>
<rect x="516" y="674" width="3" height="55"/>
<rect x="532" y="674" width="3" height="53"/>
<rect x="548" y="674" width="3" height="52"/>
<rect x="564" y="674" width="3" height="51"/>
<rect x="580" y="674" width="3" height="55"/>
<rect x="596" y="674" width="3" height="54"/>
<rect x="612" y="674" width="3" height="57"/>
<rect x="628" y="674" width="3" height="58"/>
<rect x="644" y="674" width="3" height="55"/>
<rect x="660" y="674" width="3" height="50"/>
<rect x="676" y="674" width="3" height="46"/>
<rect x="692" y="674" width="3" height="41"/>
<rect x="708" y="674" width="3" height="35"/>
<rect x="724" y="674" width="3" height="31"/>
<rect x="740" y="674" width="3" height="25"/>
<rect x="756" y="674" width="3" height="16"/>
<rect x="772" y="674" width="3" height="10"/>
<rect x="788" y="674" width="3" height="4"/>
<rect x="804" y="671" width="3" height="3"/>
<rect x="820" y="668" width="3" height="6"/>
<rect x="836" y="667" width="3" height="7"/>
<rect x="852" y="672" width="3" height="2"/>
<rect x="868" y="674" width="3" height="4"/>
<rect x="884" y="674" width="3" height="8"/>
<rect x="900" y="674" width="3" height="8"/>
<rect x="916" y="674" width="3" height="8"/>
<rect x="932" y="674" width="3" height="8"/>
<rect x="948" y="674" width="3" height="9"/>
<rect x="964" y="674" width="3" height="7"/>
<rect x="980" y="674" width="3" height="4"/>
<rect x="996" y="673" width="3" height="1"/>
<rect x="1012" y="670" width="3" height="4"/>
<rect x="1028" y="667" width="3" height="7"/>
<rect x="1044" y="665" width="3" height="9"/>
<rect x="1060" y="665" width="3" height="9"/>
<rect x="1076" y="666" width="3" height="8"/>
<rect x="1092" y="666" width="3" height="8"/>
<rect x="1108" y="667" width="3" height="7"/>
<rect x="1124" y="666" width="3" height="8"/>
<rect x="1140" y="665" width="3" height="9"/>
<rect x="1156" y="668" width="3" height="6"/>
<rect x="1172" y="673" width="3" height="1"/>
<rect x="1188" y="674" width="3" height="6"/>
<rect x="1204" y="674" width="3" height="11"/>
<rect x="1220" y="674" width="3" height="14"/>
<rect x="1236" y="674" width="3" height="16"/>
<rect x="1252" y="674" width="3" height="13"/>
<rect x="1268" y="674" width="3" height="10"/>
<rect x="1284" y="674" width="3" height="7"/>
<rect x="1300" y="674" width="3" height="6"/>
<rect x="1316" y="674" width="3" height="6"/>
<rect x="1332" y="674" width="3" height="6"/>
<rect x="1348" y="674" width="3" height="8"/>
<rect x="1364" y="674" width="3" height="12"/>
<rect x="1380" y="674" width="3" height="10"/>
</g>
<polyline points="5,691.20 21,691.20 37,691.20 53,691.20 69,692.20 85,692.20 101,692.20 117,689.20 133,686.20 149,681.70 165,676.20 181,669.70 197,664.70 213,659.20 229,652.70 245,648.20 261,644.70 277,642.20 293,641.20 309,641.20 325,641.20 341,643.20 357,646.20 373,651.70 389,657.20 405,663.20 421,669.70 437,677.70 453,686.20 469,694.70 485,702.70 501,709.70 517,714.70 533,718.20 549,721.20 565,724.20 581,725.20 597,726.20 613,726.70 629,726.70 645,726.70 661,726.70 677,726.20 693,725.20 709,723.20 725,720.70 741,718.20 757,714.20 773,708.20 789,703.20 805,696.70 821,690.70 837,685.20 853,681.70 869,678.20 885,676.20 901,675.70 917,675.20 933,675.20 949,676.70 965,677.70 981,677.70 997,677.70 1013,677.70 1029,676.20 1045,674.70 1061,673.20 1077,671.70 1093,670.70 1109,669.20 1125,667.70 1141,666.70 1157,666.20 1173,667.20 1189,668.20 1205,670.70 1221,673.70 1237,675.20 1253,677.20 1269,679.20 1285,680.20 1301,681.70 1317,682.20 1333,682.20 1349,682.20 1365,681.70 1381,681.20" fill="none" stroke="#f00" stroke-width="2" stroke-linejoin="round" shape-rendering="crispEdges"/>
<g shape-rendering="crispEdges" stroke="#000" stroke-width="1" stroke-dasharray="3 3">
<line x1="6" y1="759.5" x2="1641" y2="759.5"/>
<line x1="6" y1="789.5" x2="1641" y2="789.5"/>
<line x1="6" y1="824.5" x2="1641" y2="824.5"/>
</g>
<polyline points="5,804.05 21,802.05 37,801.55 53,798.55 69,791.55 85,785.55 101,773.05 117,773.05 133,773.05 149,768.55 165,768.05 181,774.80 197,774.80 213,772.05 229,776.55 245,776.55 261,773.05 277,789.05 293,785.05 309,786.55 325,790.55 341,793.55 357,804.55 373,806.05 389,806.05 405,806.05 421,807.30 437,811.55 453,811.55 469,811.55 485,810.05 501,809.55 517,808.30 533,806.55 549,806.05 565,808.05 581,814.05 597,805.55 613,810.05 629,810.05 645,801.55 661,797.55 677,797.55 693,793.55 709,792.05 725,792.05 741,788.55 757,781.05 773,781.05 789,781.05 805,779.05 821,781.55 837,785.05 853,798.55 869,800.05 885,794.55 901,792.05 917,793.05 933,792.05 949,793.05 965,788.55 981,788.05 997,782.05 1013,782.05 1029,782.05 1045,781.05 1061,788.05 1077,788.05 1093,788.05 1109,787.55 1125,784.05 1141,784.05 1157,795.55 1173,798.05 1189,803.05 1205,805.05 1221,803.55 1237,800.05 1253,788.05 1269,786.05 1285,788.55 1301,788.55 1317,791.55 1333,792.05 1349,797.55 1365,801.05 1381,789.55" fill="none" stroke="#1e90ff" stroke-width="2" stroke-linejoin="round" shape-rendering="crispEdges"/>
<g fill="#000" shape-rendering="crispEdges"><rect x="8" y="36" width="7" height="1"/><rect x="9" y="37" width="5" height="1"/><rect x="10" y="38" width="3" height="1"/><rect x="11" y="39" width="1" height="1"/></g>
<text transform="translate(20.8 41) rotate(0.1)" textLength="38.2" lengthAdjust="spacingAndGlyphs">DJ30-,H4</text>
<text transform="translate(65.4 41) rotate(0.1)" textLength="32" lengthAdjust="spacingAndGlyphs">33038.5</text>
<text transform="translate(101.3 41) rotate(0.1)" textLength="32" lengthAdjust="spacingAndGlyphs">33292.5</text>
<text transform="translate(137.4 41) rotate(0.1)" textLength="32" lengthAdjust="spacingAndGlyphs">33032.5</text>
<text transform="translate(173.3 41) rotate(0.1)" textLength="32" lengthAdjust="spacingAndGlyphs">33286.5</text>
<text transform="translate(9.3 641.8) rotate(0.1)" textLength="65.3" lengthAdjust="spacingAndGlyphs">MACD(12,26,9)</text>
<text transform="translate(78.2 641.8) rotate(0.1)" textLength="25.3" lengthAdjust="spacingAndGlyphs">-39.81</text>
<text transform="translate(107.5 641.8) rotate(0.1)" textLength="25.3" lengthAdjust="spacingAndGlyphs">-33.90</text>
<text transform="translate(9.3 750.8) rotate(0.1)" textLength="31.4" lengthAdjust="spacingAndGlyphs">RSI(14)</text>
<text transform="translate(43.7 750.8) rotate(0.1)" textLength="33.1" lengthAdjust="spacingAndGlyphs">50.2300</text>
<text transform="translate(1647 66.9) rotate(0.1)" textLength="33" lengthAdjust="spacingAndGlyphs">35194.0</text>
<text transform="translate(1647 99.9) rotate(0.1)" textLength="33" lengthAdjust="spacingAndGlyphs">35041.0</text>
<text transform="translate(1647 132.9) rotate(0.1)" textLength="33" lengthAdjust="spacingAndGlyphs">34892.5</text>
<text transform="translate(1647 165.9) rotate(0.1)" textLength="33" lengthAdjust="spacingAndGlyphs">34739.5</text>
<text transform="translate(1647 198.9) rotate(0.1)" textLength="33" lengthAdjust="spacingAndGlyphs">34591.0</text>
<text transform="translate(1647 231.9) rotate(0.1)" textLength="33" lengthAdjust="spacingAndGlyphs">34438.0</text>
<text transform="translate(1647 264.9) rotate(0.1)" textLength="33" lengthAdjust="spacingAndGlyphs">34289.5</text>
<text transform="translate(1647 297.9) rotate(0.1)" textLength="33" lengthAdjust="spacingAndGlyphs">34136.5</text>
<text transform="translate(1647 330.9) rotate(0.1)" textLength="33" lengthAdjust="spacingAndGlyphs">33988.0</text>
<text transform="translate(1647 363.9) rotate(0.1)" textLength="33" lengthAdjust="spacingAndGlyphs">33835.0</text>
<text transform="translate(1647 396.9) rotate(0.1)" textLength="33" lengthAdjust="spacingAndGlyphs">33686.5</text>
<text transform="translate(1647 429.9) rotate(0.1)" textLength="33" lengthAdjust="spacingAndGlyphs">33533.5</text>
<text transform="translate(1647 462.9) rotate(0.1)" textLength="33" lengthAdjust="spacingAndGlyphs">33385.0</text>
<text transform="translate(1647 495.9) rotate(0.1)" textLength="33" lengthAdjust="spacingAndGlyphs">33232.0</text>
<text transform="translate(1647 528.9) rotate(0.1)" textLength="33" lengthAdjust="spacingAndGlyphs">33083.5</text>
<text transform="translate(1647 561.9) rotate(0.1)" textLength="33" lengthAdjust="spacingAndGlyphs">32935.0</text>
<text transform="translate(1647 594.9) rotate(0.1)" textLength="33" lengthAdjust="spacingAndGlyphs">32782.0</text>
<text transform="translate(1647 627.9) rotate(0.1)" textLength="33" lengthAdjust="spacingAndGlyphs">32633.5</text>
<text transform="translate(1645.2 640.2) rotate(0.1)" textLength="28" lengthAdjust="spacingAndGlyphs">209.18</text>
<text transform="translate(1645.2 677.6) rotate(0.1)" textLength="17.5" lengthAdjust="spacingAndGlyphs">0.00</text>
<text transform="translate(1645.2 732.9) rotate(0.1)" textLength="25.5" lengthAdjust="spacingAndGlyphs">-298.2</text>
<text transform="translate(1645.2 748.8) rotate(0.1)" textLength="14.5" lengthAdjust="spacingAndGlyphs">100</text>
<text transform="translate(1644.4 762.8) rotate(0.1)" textLength="9.5" lengthAdjust="spacingAndGlyphs">80</text>
<text transform="translate(1644.4 792.7) rotate(0.1)" textLength="9.5" lengthAdjust="spacingAndGlyphs">50</text>
<text transform="translate(1644.8 828) rotate(0.1)" textLength="9.2" lengthAdjust="spacingAndGlyphs">15</text>
<text transform="translate(1645.2 836.8) rotate(0.1)" textLength="4.8" lengthAdjust="spacingAndGlyphs">0</text>
<g shape-rendering="crispEdges">
<rect x="1643" y="394" width="41" height="11" fill="#f00"/>
<rect x="1643" y="425" width="41" height="11" fill="#f00"/>
<rect x="1643" y="458" width="41" height="11" fill="#ffa500"/>
<rect x="1643" y="511" width="41" height="11" fill="#00f"/>
<rect x="1643" y="542" width="41" height="11" fill="#00f"/>
<rect x="1643" y="476" width="41" height="11" fill="#000"/>
</g>
<text transform="translate(1647 402.9) rotate(0.1)" textLength="33" lengthAdjust="spacingAndGlyphs" class="w">33655.0</text>
<text transform="translate(1647 433.9) rotate(0.1)" textLength="33" lengthAdjust="spacingAndGlyphs" class="w">33513.7</text>
<text transform="translate(1647 466.9) rotate(0.1)" textLength="33" lengthAdjust="spacingAndGlyphs" class="w">33363.2</text>
<text transform="translate(1647 519.9) rotate(0.1)" textLength="33" lengthAdjust="spacingAndGlyphs" class="w">33121.5</text>
<text transform="translate(1647 550.9) rotate(0.1)" textLength="33" lengthAdjust="spacingAndGlyphs" class="w">32980.2</text>
<text transform="translate(1647 484.9) rotate(0.1)" textLength="33" lengthAdjust="spacingAndGlyphs" class="w">33286.5</text>
<text transform="translate(3.9 853) rotate(0.1)" textLength="52" lengthAdjust="spacingAndGlyphs">11 Dec 2022</text>
<text transform="translate(67.9 853) rotate(0.1)" textLength="54.3" lengthAdjust="spacingAndGlyphs">12 Dec 12:00</text>
<text transform="translate(131.9 853) rotate(0.1)" textLength="54.3" lengthAdjust="spacingAndGlyphs">13 Dec 04:00</text>
<text transform="translate(195.9 853) rotate(0.1)" textLength="54.3" lengthAdjust="spacingAndGlyphs">13 Dec 20:00</text>
<text transform="translate(259.9 853) rotate(0.1)" textLength="54.3" lengthAdjust="spacingAndGlyphs">14 Dec 12:00</text>
<text transform="translate(323.9 853) rotate(0.1)" textLength="54.3" lengthAdjust="spacingAndGlyphs">15 Dec 04:00</text>
<text transform="translate(387.9 853) rotate(0.1)" textLength="54.3" lengthAdjust="spacingAndGlyphs">15 Dec 20:00</text>
<text transform="translate(451.9 853) rotate(0.1)" textLength="54.3" lengthAdjust="spacingAndGlyphs">16 Dec 12:00</text>
<text transform="translate(515.9 853) rotate(0.1)" textLength="54.3" lengthAdjust="spacingAndGlyphs">19 Dec 00:00</text>
<text transform="translate(579.9 853) rotate(0.1)" textLength="54.3" lengthAdjust="spacingAndGlyphs">19 Dec 16:00</text>
<text transform="translate(643.9 853) rotate(0.1)" textLength="54.3" lengthAdjust="spacingAndGlyphs">20 Dec 08:00</text>
<text transform="translate(707.9 853) rotate(0.1)" textLength="54.3" lengthAdjust="spacingAndGlyphs">21 Dec 00:00</text>
<text transform="translate(771.9 853) rotate(0.1)" textLength="54.3" lengthAdjust="spacingAndGlyphs">21 Dec 16:00</text>
<text transform="translate(835.9 853) rotate(0.1)" textLength="54.3" lengthAdjust="spacingAndGlyphs">22 Dec 08:00</text>
<text transform="translate(899.9 853) rotate(0.1)" textLength="54.3" lengthAdjust="spacingAndGlyphs">23 Dec 00:00</text>
<text transform="translate(963.9 853) rotate(0.1)" textLength="54.3" lengthAdjust="spacingAndGlyphs">23 Dec 16:00</text>
<text transform="translate(1027.9 853) rotate(0.1)" textLength="54.3" lengthAdjust="spacingAndGlyphs">27 Dec 04:00</text>
<text transform="translate(1091.9 853) rotate(0.1)" textLength="54.3" lengthAdjust="spacingAndGlyphs">27 Dec 20:00</text>
<text transform="translate(1155.9 853) rotate(0.1)" textLength="54.3" lengthAdjust="spacingAndGlyphs">28 Dec 12:00</text>
<text transform="translate(1219.9 853) rotate(0.1)" textLength="54.3" lengthAdjust="spacingAndGlyphs">29 Dec 04:00</text>
<text transform="translate(1283.9 853) rotate(0.1)" textLength="54.3" lengthAdjust="spacingAndGlyphs">29 Dec 20:00</text>
<text transform="translate(1347.9 853) rotate(0.1)" textLength="54.3" lengthAdjust="spacingAndGlyphs">30 Dec 12:00</text>
</svg></body></html>
